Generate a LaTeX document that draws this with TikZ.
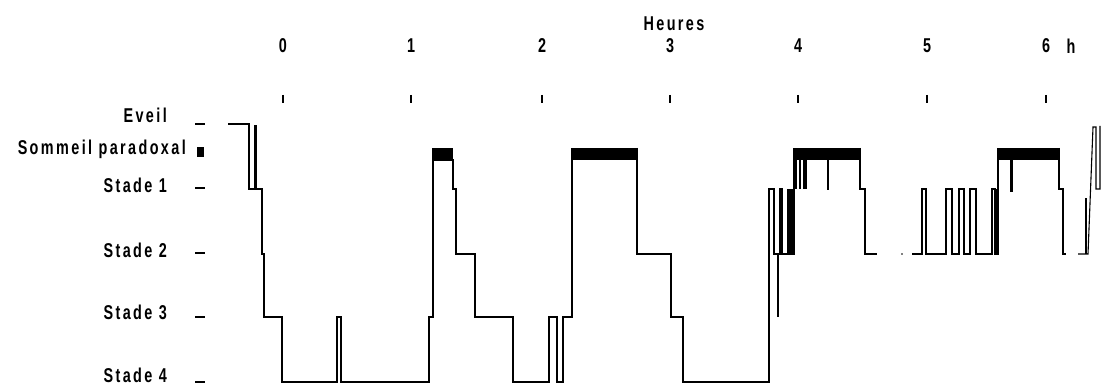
\documentclass[tikz,border=0pt]{standalone}
\usepackage{fontspec}
\newfontfamily\labfont{Liberation Sans}[FakeStretch=0.72,LetterSpace=12]
\begin{document}
\begin{tikzpicture}[x=1pt,y=-1pt,
  trace/.style={line width=1.1pt,line join=miter,line cap=butt},
  thickdip/.style={line width=2.4pt},
  lbl/.style={font=\labfont\bfseries\fontsize{20}{22}\selectfont,inner sep=0pt,anchor=base east},
  axlbl/.style={font=\labfont\bfseries\fontsize{20}{22}\selectfont,inner sep=0pt,anchor=center},
  tickmark/.style={line width=1.6pt},
  leveldash/.style={line width=1.2pt}]
\useasboundingbox (0,0) rectangle (1103,385);

% title and hour axis
\node[axlbl] (heures) at (674,24) {Heures};
\foreach \n/\x in {0/283,1/411,2/542,3/670,4/798,5/927,6/1046}{
  \node[axlbl] (h\n) at (\x,46) {\n};
  \draw[tickmark] (\x,95) -- (\x,103);
}
\node[axlbl] (hunit) at (1071,46) {h};

% level labels
\node[lbl] (eveil) at (167,123) {Eveil};
\node[lbl] (sp) at (186,155) {Sommeil paradoxal};
\node[lbl] (s1) at (167,193) {Stade 1};
\node[lbl] (s2) at (167,257) {Stade 2};
\node[lbl] (s3) at (167,319) {Stade 3};
\node[lbl] (s4) at (167,382) {Stade 4};
\draw[leveldash] (195,124) -- (205,124);
\fill (197,147) rectangle (204,157);
\draw[leveldash] (195,188) -- (205,188);
\draw[leveldash] (195,253) -- (205,253);
\draw[leveldash] (195,317) -- (205,317);
\draw[leveldash] (195,382) -- (205,382);

% hypnogram
\draw[trace] (228,124) -- (249,124) -- (249,189) -- (255,189) -- (255,126) -- (256.5,126) -- (256.5,189) -- (262,189) -- (262,254) -- (264,254) -- (264,317) -- (282,317) -- (282,382) -- (337,382) -- (337,317) -- (341,317) -- (341,382) -- (429,382) -- (429,317) -- (433,317) -- (433,148);
\fill (433,148) rectangle (453,160);
\draw[trace] (433,160) -- (453,160) -- (453,189) -- (456,189) -- (456,254) -- (475,254) -- (475,317) -- (513,317) -- (513,382) -- (549,382) -- (549,317) -- (557,317) -- (557,382) -- (563,382) -- (563,317) -- (572,317) -- (572,148);
\fill (572,148) rectangle (637,160);
\draw[trace] (637,148) -- (637,254) -- (671,254) -- (671,317) -- (683,317) -- (683,382) -- (769,382) -- (769,189) -- (774,189) -- (774,254) -- (780,254) -- (780,189) -- (782,189) -- (782,254) -- (794,254) -- (794,148);
\draw[thickdip] (778,254) -- (778,317);
\fill (787,189) rectangle (793,254);
\fill (793,148) rectangle (860,160);
\draw[line width=1.8pt] (796,160) -- (796,189);
\draw[line width=1.8pt] (800,160) -- (800,189);
\fill (803,160) rectangle (807,189);
\draw[thickdip] (828,160) -- (828,190);
\draw[trace] (860,148) -- (860,189) -- (865,189) -- (865,254) -- (877,254);
\fill (902,254) circle (0.8);
\draw[trace] (912,254) -- (922,254) -- (922,189) -- (926,189) -- (926,254) -- (946,254) -- (946,189) -- (952,189) -- (952,254) -- (959,254) -- (959,189) -- (964,189) -- (964,254) -- (970,254) -- (970,189) -- (976,189) -- (976,254) -- (992,254) -- (992,189) -- (995,189) -- (995,254) -- (998,254) -- (998,148);
\draw[line width=1.8pt] (996.5,189) -- (996.5,254);
\fill (998,148) rectangle (1059,160);
\draw[thickdip] (1011.5,160) -- (1011.5,192);
\draw[trace] (1059,148) -- (1059,189) -- (1063,189) -- (1063,254) -- (1066,254);
\draw[trace] (1078,254) -- (1088,254) -- (1093,127) -- (1096,127) -- (1096,189) -- (1100,189) -- (1100,126);
\draw[thickdip] (1086,254) -- (1086,198);
\end{tikzpicture}
\end{document}
